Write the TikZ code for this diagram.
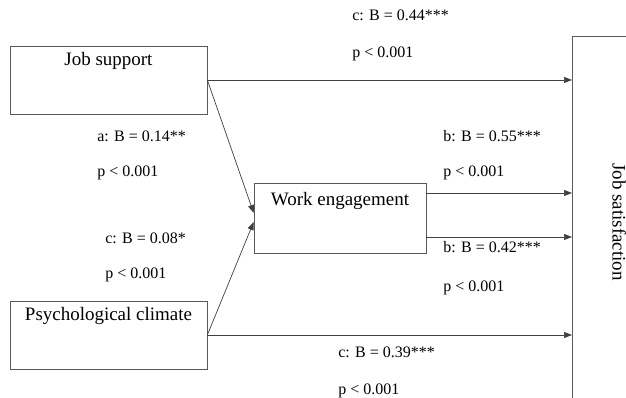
\documentclass[tikz,border=0pt]{standalone}
\usepackage{fontspec}
\setmainfont{Liberation Serif}
\usetikzlibrary{positioning, arrows.meta}

\tikzset{
  varbox/.style={draw=black!65, inner sep=0pt, text height=0.4cm, text depth=0.96cm,
    font=\fontsize{10.8}{13}\selectfont},
  coef/.style={anchor=base west, inner sep=0pt, font=\fontsize{9.1}{11}\selectfont},
  effect/.style={draw=black!75, -{Triangle[length=0.16cm,width=0.12cm]}}
}

\begin{document}
\begin{tikzpicture}[x=0.02cm, y=-0.02cm]
        \useasboundingbox (0,0) rectangle (626,398);
        \clip (0,0) rectangle (626,398);

        % variables
        \node[varbox, minimum width=3.94cm] (js) at (108.5,80) {Job support};
        \node[varbox, minimum width=3.94cm] (pc) at (108.5,335) {Psychological climate};
        \node[varbox, minimum width=3.44cm, text height=0.46cm, text depth=0.94cm] (we) at (340,218) {Work engagement};
        \node[draw=black!65, minimum width=3cm, minimum height=8cm, anchor=north west] (jsat) at (572,36) {};
        \node[rotate=-90, anchor=base, inner sep=0pt, font=\fontsize{10.8}{13}\selectfont] (jsatlabel) at (612.5,222) {Job satisfaction};

        % paths
        \draw[effect] (js.east) -- (js.east -| jsat.west);
        \draw[effect] (js.east) -- ([yshift=0.1cm]we.west);
        \draw[effect] (pc.east) -- ([yshift=-0.08cm]we.west);
        \draw[effect] (pc.east) -- (pc.east -| jsat.west);
        \draw[effect] ([yshift=0.5cm]we.east) -- ([yshift=0.5cm]we.east -| jsat.west);
        \draw[effect] ([yshift=-0.38cm]we.east) -- ([yshift=-0.38cm]we.east -| jsat.west);

        % coefficients
        \node[coef] (c1) at (352,21) {c: B = 0.44***};
        \node[coef] (p1) at (352,58) {p < 0.001};
        \node[coef] (a1) at (97,142) {a: B = 0.14**};
        \node[coef] (p2) at (97,177) {p < 0.001};
        \node[coef] (b1) at (443,142) {b: B = 0.55***};
        \node[coef] (p3) at (443,177) {p < 0.001};
        \node[coef] (c2) at (105,244) {c: B = 0.08*};
        \node[coef] (p4) at (105,279) {p < 0.001};
        \node[coef] (b2) at (443,253) {b: B = 0.42***};
        \node[coef] (p5) at (443,292) {p < 0.001};
        \node[coef] (c3) at (338,358) {c: B = 0.39***};
        \node[coef] (p6) at (338,395) {p < 0.001};
\end{tikzpicture}
\end{document}
